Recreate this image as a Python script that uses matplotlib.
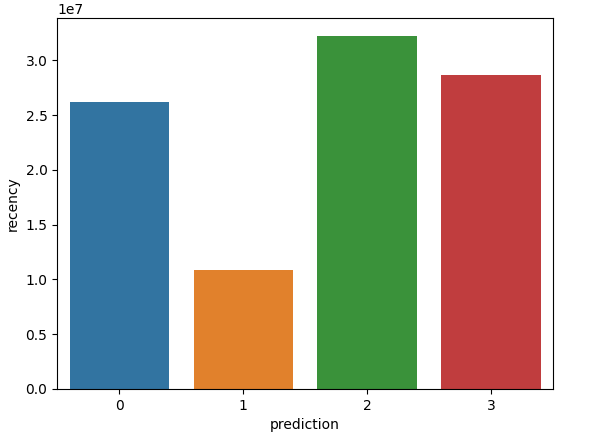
import matplotlib
matplotlib.use("Agg")
import matplotlib.pyplot as plt
import seaborn as sns
import pandas as pd

predictions = [0, 1, 2, 3]
recency = [2.622e7, 1.084e7, 3.226e7, 2.866e7]

df = pd.DataFrame({"prediction": predictions, "recency": recency})

fig, ax = plt.subplots(figsize=(6.08, 4.37), dpi=100)
fig.subplots_adjust(left=0.094, right=0.9095, top=0.959, bottom=0.110)
sns.barplot(data=df, x="prediction", y="recency", hue="prediction",
            palette="tab10", legend=False, ax=ax, saturation=0.75)

fig.savefig("out.png", dpi=100)
